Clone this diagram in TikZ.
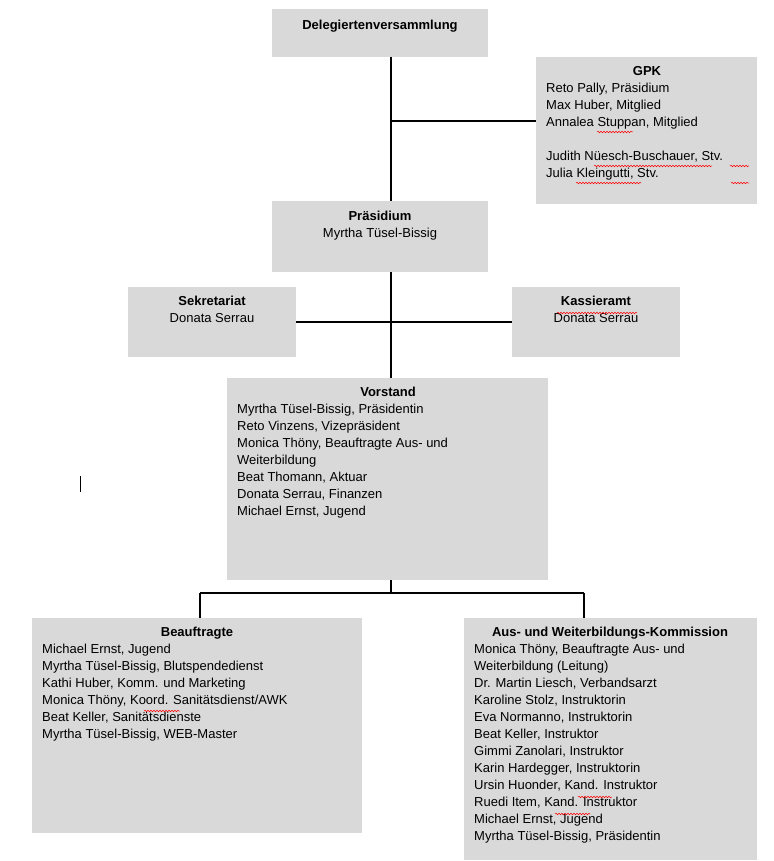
\documentclass[tikz,border=0pt]{standalone}
\usepackage{fontspec}
\setmainfont{Liberation Sans}
\usetikzlibrary{decorations.pathmorphing}
\begin{document}
\begin{tikzpicture}[x=1pt,y=-1pt,
  box/.style={fill=black!15,draw=none},
  ln/.style={line width=1.4pt},
  ttl/.style={anchor=north,font=\fontsize{13}{17}\selectfont\bfseries,inner sep=0pt},
  bdy/.style={anchor=north west,font=\fontsize{13}{17}\selectfont,align=left,inner sep=0pt},
  cbdy/.style={anchor=north,font=\fontsize{13}{17}\selectfont,align=center,inner sep=0pt},
  sq/.style={red,line width=0.5pt,decorate,decoration={snake,amplitude=0.8pt,segment length=3pt}}]
\useasboundingbox (0,0) rectangle (773,861);
\fill[box] (272,9) rectangle (488,57);
\fill[box] (536,57) rectangle (757,204);
\fill[box] (272,201) rectangle (488,272);
\fill[box] (128,287) rectangle (296,357);
\fill[box] (512,287) rectangle (680,357);
\fill[box] (227,378) rectangle (548,580);
\fill[box] (32,618) rectangle (362,833);
\fill[box] (464,618) rectangle (757,860);
\coordinate (dv) at (391,57); \coordinate (pt) at (391,201);
\coordinate (gp) at (391,121); \coordinate (gpk) at (536,121);
\coordinate (pb) at (391,272); \coordinate (vt) at (391,378);
\coordinate (sk) at (296,322); \coordinate (ka) at (512,322);
\coordinate (vb) at (391,580); \coordinate (vj) at (391,593);
\coordinate (bl) at (200,593); \coordinate (br) at (584,593);
\coordinate (bb) at (200,618); \coordinate (ab) at (584,618);
\draw[ln] (dv) -- (pt); \draw[ln] (gp) -- (gpk);
\draw[ln] (pb) -- (vt); \draw[ln] (sk) -- (ka);
\draw[ln] (vb) -- (vj); \draw[ln] (bl) -- (br);
\draw[ln] (bl) -- (bb); \draw[ln] (br) -- (ab);
\coordinate (c1) at (80,476); \coordinate (c2) at (80,492);
\draw[line width=0.6pt] (c1) -- (c2);
\node[ttl] (t1) at (380,20) {Delegiertenversammlung};
\node[ttl] (t2) at (647,66) {GPK};
\node[bdy] (b2) at (546,83) {Reto Pally, Präsidium\\Max Huber, Mitglied\\Annalea Stuppan, Mitglied\\[17pt]Judith Nüesch-Buschauer, Stv.\\Julia Kleingutti, Stv.};
\node[ttl] (t3) at (380,211) {Präsidium};
\node[cbdy] (b3) at (380,228) {Myrtha Tüsel-Bissig};
\node[ttl] (t4) at (212,296) {Sekretariat};
\node[cbdy] (b4) at (212,313) {Donata Serrau};
\node[ttl] (t5) at (596,296) {Kassieramt};
\node[cbdy] (b5) at (596,313) {Donata Serrau};
\node[ttl] (t6) at (388,387) {Vorstand};
\node[bdy] (b6) at (237,404) {Myrtha Tüsel-Bissig, Präsidentin\\Reto Vinzens, Vizepräsident\\Monica Thöny, Beauftragte Aus- und\\Weiterbildung\\Beat Thomann, Aktuar\\Donata Serrau, Finanzen\\Michael Ernst, Jugend};
\node[ttl] (t7) at (197,627) {Beauftragte};
\node[bdy] (b7) at (42,644) {Michael Ernst, Jugend\\Myrtha Tüsel-Bissig, Blutspendedienst\\Kathi Huber, Komm. und Marketing\\Monica Thöny, Koord. Sanitätsdienst/AWK\\Beat Keller, Sanitätsdienste\\Myrtha Tüsel-Bissig, WEB-Master};
\node[ttl] (t8) at (610,627) {Aus- und Weiterbildungs-Kommission};
\node[bdy] (b8) at (474,644) {Monica Thöny, Beauftragte Aus- und\\Weiterbildung (Leitung)\\Dr. Martin Liesch, Verbandsarzt\\Karoline Stolz, Instruktorin\\Eva Normanno, Instruktorin\\Beat Keller, Instruktor\\Gimmi Zanolari, Instruktor\\Karin Hardegger, Instruktorin\\Ursin Huonder, Kand. Instruktor\\Ruedi Item, Kand. Instruktor\\Michael Ernst, Jugend\\Myrtha Tüsel-Bissig, Präsidentin};
\draw[sq] (597,132) -- (633,132);
\draw[sq] (594,166) -- (712,166);
\draw[sq] (730,166) -- (749,166);
\draw[sq] (576,183) -- (641,183);
\draw[sq] (731,183) -- (749,183);
\draw[sq] (557,313) -- (637,313);
\draw[sq] (144,711) -- (180,711);
\draw[sq] (578,797) -- (612,797);
\draw[sq] (555,814) -- (590,814);
\end{tikzpicture}
\end{document}
